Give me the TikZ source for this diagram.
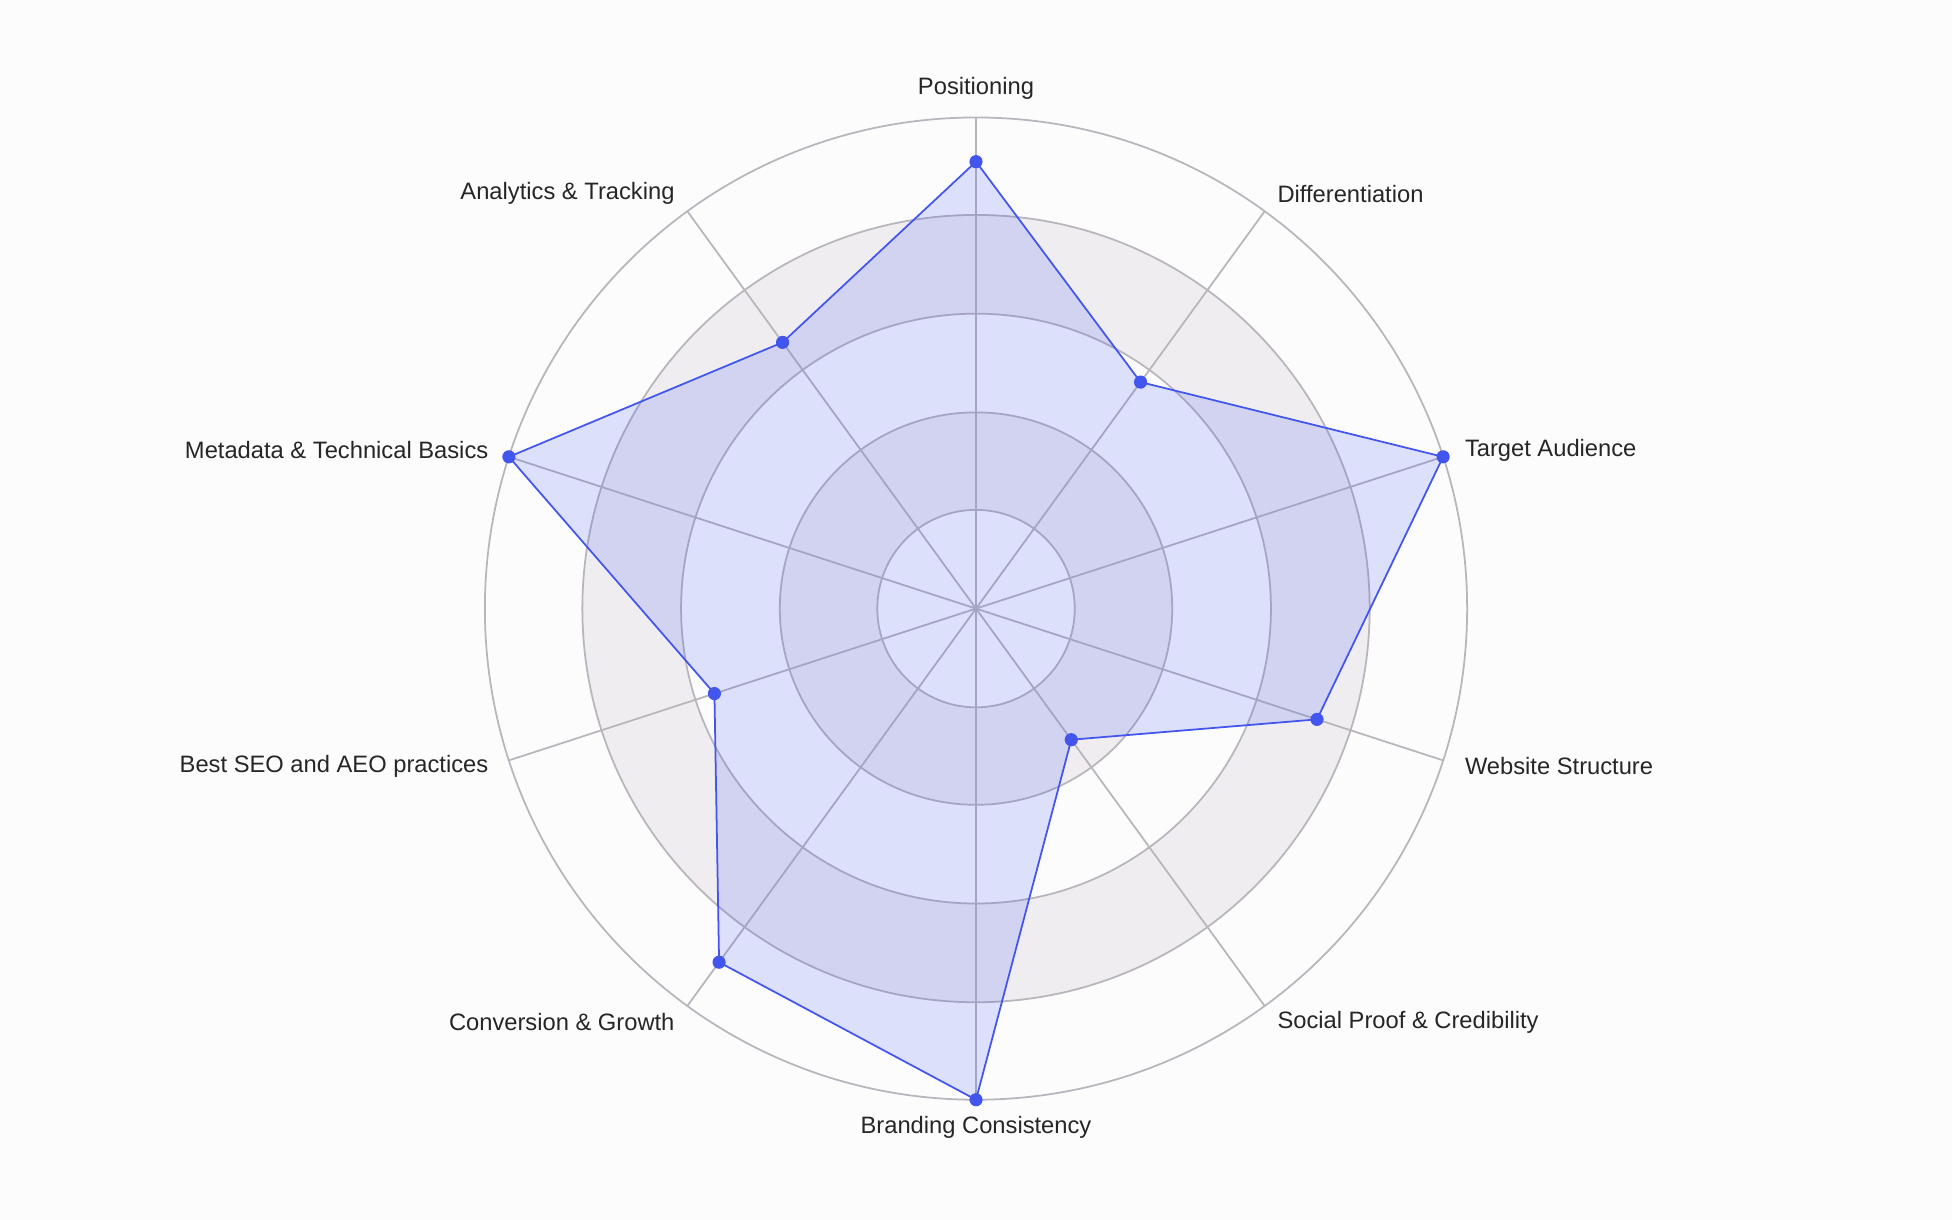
\documentclass[tikz,border=0pt]{standalone}
\usepackage{fontspec}
\setmainfont{Liberation Sans}
\usepackage{tikz}
\usetikzlibrary{positioning,calc}
\definecolor{ringgray}{RGB}{184, 181, 188}
\definecolor{bandgray}{RGB}{240, 237, 241}
\definecolor{polyblue}{RGB}{66, 86, 238}
\definecolor{bgwhite}{RGB}{253, 252, 253}

\begin{document}
\begin{tikzpicture}[x=0.025cm, y=0.025cm,
    axislabel/.style={font=\fontsize{13.5}{16}\selectfont, text=black!85, inner sep=0pt},
    dot/.style={circle, fill=polyblue, inner sep=0pt, minimum size=7.5pt}]
    % Background
    \fill[bgwhite] (0,0) rectangle (1562,976);
    \useasboundingbox (0,0) rectangle (1562,976);
    \coordinate (c) at (781,489);

    % Bands and rings
    \fill[bandgray] (c) circle (315);
    \fill[bgwhite] (c) circle (236);
    \fill[bandgray] (c) circle (157);
    \fill[bgwhite] (c) circle (79);
    \foreach \r in {79,157,236,315,393}
        \draw[ringgray, line width=1pt] (c) circle (\r);

    % Spokes
    \foreach \k in {0,...,9}
        \draw[ringgray, line width=1pt] (c) -- ++({90-36*\k}:393);

    % Data points
    \foreach \v [count=\k from 0] in {0.91,0.57,1.0,0.73,0.33,1.0,0.89,0.56,1.0,0.67}
        \coordinate (p\k) at ($(c)+({90-36*\k}:{393*\v})$);

    \fill[polyblue, opacity=0.17] (p0) -- (p1) -- (p2) -- (p3) -- (p4) -- (p5) -- (p6) -- (p7) -- (p8) -- (p9) -- cycle;
    \draw[polyblue, line width=1pt, line join=round] (p0) -- (p1) -- (p2) -- (p3) -- (p4) -- (p5) -- (p6) -- (p7) -- (p8) -- (p9) -- cycle;
    \foreach \k in {0,...,9}
        \node[dot] at (p\k) {};

    % Labels
    \node[axislabel] (positioning) at (781,905) {Positioning};
    \node[axislabel, anchor=west] (differentiation) at (1022,821) {Differentiation};
    \node[axislabel, anchor=west] (audience) at (1172,616) {Target Audience};
    \node[axislabel, anchor=west] (structure) at (1172,363) {Website Structure};
    \node[axislabel, anchor=west] (proof) at (1022,158) {Social Proof \& Credibility};
    \node[axislabel] (branding) at (781,74) {Branding Consistency};
    \node[axislabel, anchor=east] (conversion) at (540,158) {Conversion \& Growth};
    \node[axislabel, anchor=east] (seo) at (391,363) {Best SEO and AEO practices};
    \node[axislabel, anchor=east] (metadata) at (391,616) {Metadata \& Technical Basics};
    \node[axislabel, anchor=east] (analytics) at (540,821) {Analytics \& Tracking};
\end{tikzpicture}
\end{document}
